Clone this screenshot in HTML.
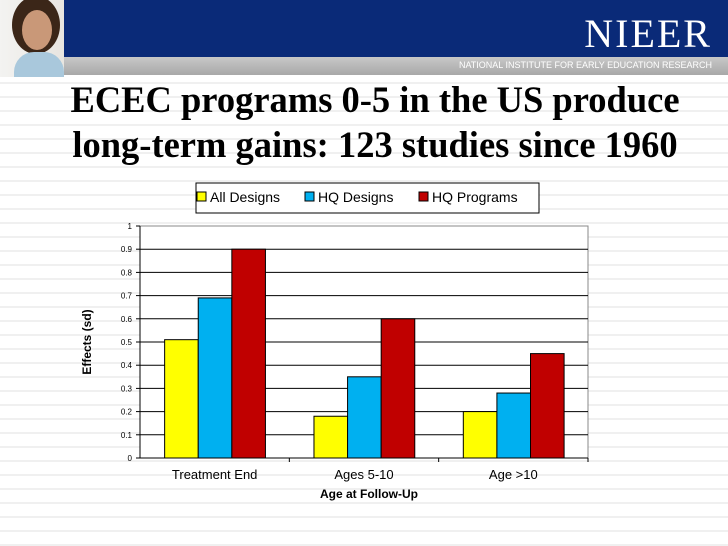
<!DOCTYPE html>
<html><head><meta charset="utf-8"><style>
body{margin:0;width:728px;height:546px;overflow:hidden;background:#fff repeating-linear-gradient(180deg,#fff 0,#fff 12px,#f0f0f0 12px,#f0f0f0 14px);font-family:"Liberation Sans",sans-serif;position:relative}
.abs{position:absolute}
</style></head><body>
<div class="abs" style="left:0;top:0;width:728px;height:57px;background:#0a2a78"></div>
<div class="abs" style="left:0;top:57px;width:728px;height:18px;background:linear-gradient(#c8c8c8,#a8a8a8)"></div>
<div class="abs" style="left:0;top:0;width:64px;height:77px;background:linear-gradient(90deg,#f3f3f1,#e8e5e0)">
 <div class="abs" style="left:12px;top:-4px;width:48px;height:58px;border-radius:50%;background:#3b2618"></div>
 <div class="abs" style="left:22px;top:10px;width:30px;height:40px;border-radius:50%;background:#c99878"></div>
 <div class="abs" style="left:14px;top:52px;width:50px;height:25px;border-radius:20px 20px 0 0;background:#a9c8dc"></div>
</div>
<div class="abs" style="right:16px;top:10px;color:#fff;font-family:'Liberation Serif',serif;font-size:40px;letter-spacing:2px">NIEER</div>
<div class="abs" style="right:16px;top:60px;color:#fff;font-size:9px">NATIONAL INSTITUTE FOR EARLY EDUCATION RESEARCH</div>
<div class="abs" style="left:0;width:750px;top:77px;text-align:center;font-family:'Liberation Serif',serif;font-weight:bold;font-size:36.5px;line-height:45px;color:#000">ECEC programs 0-5 in the US produce<br>long-term gains: 123 studies since 1960</div>
<svg class="abs" style="left:0;top:0" width="728" height="546" id="chart"></svg>
<script>
const categories=["Treatment End","Ages 5-10","Age >10"];
const seriesNames=["All Designs","HQ Designs","HQ Programs"];
const allDesigns=[0.51,0.18,0.2];
const hqDesigns=[0.69,0.35,0.28];
const hqPrograms=[0.9,0.6,0.45];
const ticks=[0,0.1,0.2,0.3,0.4,0.5,0.6,0.7,0.8,0.9,1];
const colors=["#ffff00","#00b0f0","#c00000"];
const series=[allDesigns,hqDesigns,hqPrograms];
const svg=document.getElementById('chart');const NS="http://www.w3.org/2000/svg";
const X0=140,X1=588,Y0=458,Y1=226;
const y=v=>Y0-(v-0)/(1-0)*(Y0-Y1);
const gw=(X1-X0)/categories.length;
function mk(t,a,txt){const e=document.createElementNS(NS,t);for(const k in a)e.setAttribute(k,a[k]);if(txt!=null)e.textContent=txt;svg.appendChild(e);return e;}
let e=mk('rect',{x:X0,y:Y1,width:X1-X0,height:Y0-Y1,fill:'#fff',stroke:'#888'});


ticks.forEach(t=>{
 if(t>0&&t<1){const g=mk('line',{x1:X0,x2:X1,y1:y(t),y2:y(t),stroke:'#000','stroke-width':1});
 
 }
 mk('line',{x1:X0-4,x2:X0,y1:y(t),y2:y(t),stroke:'#000'});
 const l=mk('text',{x:X0-8,y:y(t)+3,'text-anchor':'end','font-size':8,fill:'#000'},String(t));
 
 
});
mk('line',{x1:X0,x2:X0,y1:Y1,y2:Y0,stroke:'#000'});
mk('line',{x1:X0,x2:X1,y1:Y0,y2:Y0,stroke:'#000'});
const bw=gw*0.225,off=gw*0.165;
categories.forEach((c,i)=>{
 const gx=X0+i*gw;
 mk('line',{x1:gx+gw,x2:gx+gw,y1:Y0,y2:Y0+4,stroke:'#000'});
 series.forEach((s,j)=>{
  const b=mk('rect',{x:gx+off+j*bw,y:y(s[i]),width:bw,height:Y0-y(s[i]),fill:colors[j],stroke:'#000','stroke-width':1});
  
  
 });
 const t=mk('text',{x:gx+gw/2,y:479,'text-anchor':'middle','font-size':13},c);
 
 
});
let xt=mk('text',{x:(X0+X1)/2+5,y:498,'text-anchor':'middle','font-size':12,'font-weight':'bold'},'Age at Follow-Up');


let yt=mk('text',{x:0,y:0,'text-anchor':'middle','font-size':12,'font-weight':'bold',transform:'translate(91,342) rotate(-90)'},'Effects (sd)');


let lg=mk('rect',{x:196,y:183,width:343,height:30,fill:'#fff',stroke:'#000'});


const lx=[197,305,419];
seriesNames.forEach((n,j)=>{
 mk('rect',{x:lx[j],y:192,width:9,height:9,fill:colors[j],stroke:'#000'});
 const t=mk('text',{x:lx[j]+13,y:202,'font-size':14},n);
 
 
});
</script>
</body></html>
